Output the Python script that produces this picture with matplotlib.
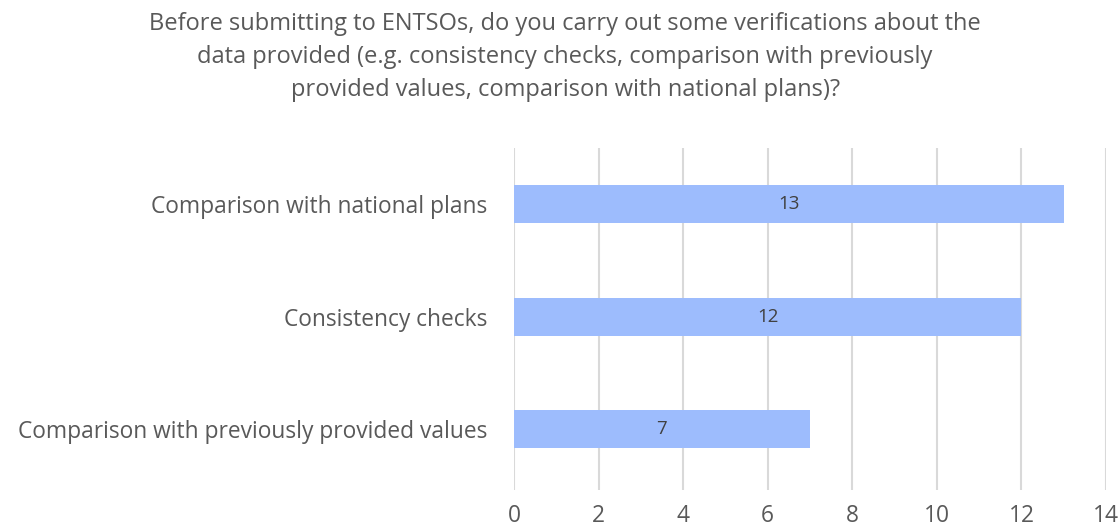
import matplotlib
matplotlib.use('Agg')
import matplotlib.pyplot as plt

# survey answers, bottom to top
categories = ["Comparison with previously provided values",
              "Consistency checks",
              "Comparison with national plans"]
counts = [7, 12, 13]
x_ticks = [0, 2, 4, 6, 8, 10, 12, 14]

title = ("Before submitting to ENTSOs, do you carry out some verifications about the\n"
         "data provided (e.g. consistency checks, comparison with previously\n"
         "provided values, comparison with national plans)?")

text_color = "#595959"
bar_color = "#9DBCFD"
grid_color = "#D9D9D9"

plt.rcParams['font.family'] = ['Open Sans', 'DejaVu Sans']

fig = plt.figure(figsize=(11.19, 5.30), dpi=100)
ax = fig.add_axes([0.4593, 0.0755, 0.5291, 0.6453])

ypos = list(range(len(categories)))
bars = ax.barh(ypos, counts, height=0.34, color=bar_color, zorder=2)

for b, v in zip(bars, counts):
    ax.text(b.get_width() / 2, b.get_y() + b.get_height() / 2, str(v),
            ha='center', va='center', fontsize=13.5, color="#404040", zorder=3)

ax.set_xlim(0, 14)
ax.set_ylim(-0.54, 2.5)
ax.set_xticks(x_ticks)
ax.set_yticks(ypos)
ax.set_yticklabels(categories)
ax.xaxis.grid(True, color=grid_color, linewidth=1.5, zorder=0)
ax.set_axisbelow(True)
for s in ax.spines.values():
    s.set_visible(False)
ax.tick_params(axis='both', length=0, colors=text_color, labelsize=16.4)
ax.tick_params(axis='x', pad=10)
ax.tick_params(axis='y', pad=19)

fig.text(0.505, 0.978, title, ha='center', va='top', fontsize=17,
         color=text_color, linespacing=1.5)

fig.savefig("out.png", dpi=100)
